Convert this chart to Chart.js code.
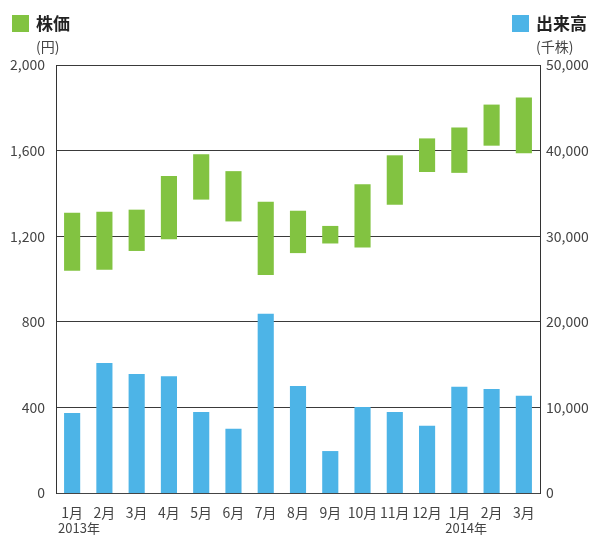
<!DOCTYPE html>
<html>
<head>
<meta charset="utf-8">
<script src="https://cdn.jsdelivr.net/npm/chart.js@4"></script>
<style>
  body { margin: 0; background: #fff; font-family: "Noto Sans CJK JP", "Noto Sans", sans-serif; color: #222; }
  #wrap { position: relative; width: 591px; height: 536px; }
  .key { position: absolute; top: 12px; font-weight: bold; font-size: 17px; line-height: 22px; }
  .key i { display: inline-block; width: 17px; height: 17px; vertical-align: -2px; margin-right: 7px; }
  .unit { position: absolute; top: 36px; font-size: 14px; color: #444; }
</style>
</head>
<body>
<div id="wrap">
  <canvas id="chart" width="591" height="536"></canvas>
  <div class="key" style="left:12px"><i style="background:#82c341"></i>株価</div>
  <div class="unit" style="left:36px">(円)</div>
  <div class="key" style="left:512px"><i style="background:#4db4e7"></i>出来高</div>
  <div class="unit" style="left:536px">(千株)</div>
</div>
<script>
const months = ['1月','2月','3月','4月','5月','6月','7月','8月','9月','10月','11月','12月','1月','2月','3月'];
const years = ['2013年','','','','','','','','','','','','2014年','',''];
// 株価 range (円): low / high
const priceLow  = [1038, 1043, 1131, 1186, 1371, 1269, 1019, 1121, 1166, 1147, 1347, 1500, 1496, 1623, 1588];
const priceHigh = [1310, 1314, 1324, 1481, 1583, 1504, 1361, 1319, 1248, 1443, 1578, 1657, 1708, 1815, 1848];
// 出来高 (千株)
const volume = [9350, 15200, 13900, 13650, 9470, 7500, 20950, 12500, 4900, 10050, 9470, 7850, 12400, 12150, 11350];

const green = '#82c341';
const blue = '#4db4e7';
const family = '"Noto Sans CJK JP", "Noto Sans", sans-serif';
const xFont = { family, size: 14 };
const yFont = { family, size: 14 };

// year captions under the month labels
const yearLabels = {
  id: 'yearLabels',
  afterDraw(chart) {
    const ctx = chart.ctx;
    const x = chart.scales.x;
    ctx.save();
    ctx.font = '13px ' + family;
    ctx.fillStyle = '#444';
    ctx.textAlign = 'left';
    ctx.textBaseline = 'middle';
    years.forEach((y, i) => {
      if (!y) return;
      const w = ctx.measureText(months[i]).width;
      ctx.fillText(y, x.getPixelForValue(i) - w / 2 - 4, 528);
    });
    ctx.restore();
  }
};

new Chart(document.getElementById('chart'), {
  type: 'bar',
  data: {
    labels: months,
    datasets: [
      {
        label: '株価',
        data: priceLow.map((lo, i) => [lo, priceHigh[i]]),
        backgroundColor: green,
        yAxisID: 'y',
        grouped: false,
        barPercentage: 0.5,
        categoryPercentage: 1,
        order: 1
      },
      {
        label: '出来高',
        data: volume,
        backgroundColor: blue,
        yAxisID: 'y1',
        grouped: false,
        barPercentage: 0.5,
        categoryPercentage: 1,
        order: 2
      }
    ]
  },
  options: {
    responsive: false,
    animation: false,
    layout: { padding: { top: 65, left: 0, right: 0, bottom: 0 } },
    plugins: { legend: { display: false }, tooltip: { enabled: false } },
    scales: {
      x: {
        grid: { display: false },
        border: { color: '#444' },
        ticks: { font: xFont, color: '#444', padding: 3, maxRotation: 0, autoSkip: false },
        afterFit(s) { s.height = 43; }
      },
      y: {
        position: 'left',
        min: 0, max: 2000,
        ticks: { stepSize: 400, font: yFont, color: '#444', padding: 11,
                 callback: v => v.toLocaleString('en-US') },
        grid: { color: '#3a3a3a', lineWidth: 1, drawTicks: false },
        border: { color: '#333' },
        afterFit(s) { s.width = 56; }
      },
      y1: {
        position: 'right',
        min: 0, max: 50000,
        ticks: { stepSize: 10000, font: yFont, color: '#444', padding: 6,
                 callback: v => v.toLocaleString('en-US') },
        grid: { display: false, drawTicks: false },
        border: { color: '#333' },
        afterFit(s) { s.width = 51; }
      }
    }
  },
  plugins: [yearLabels]
});
</script>
</body>
</html>
